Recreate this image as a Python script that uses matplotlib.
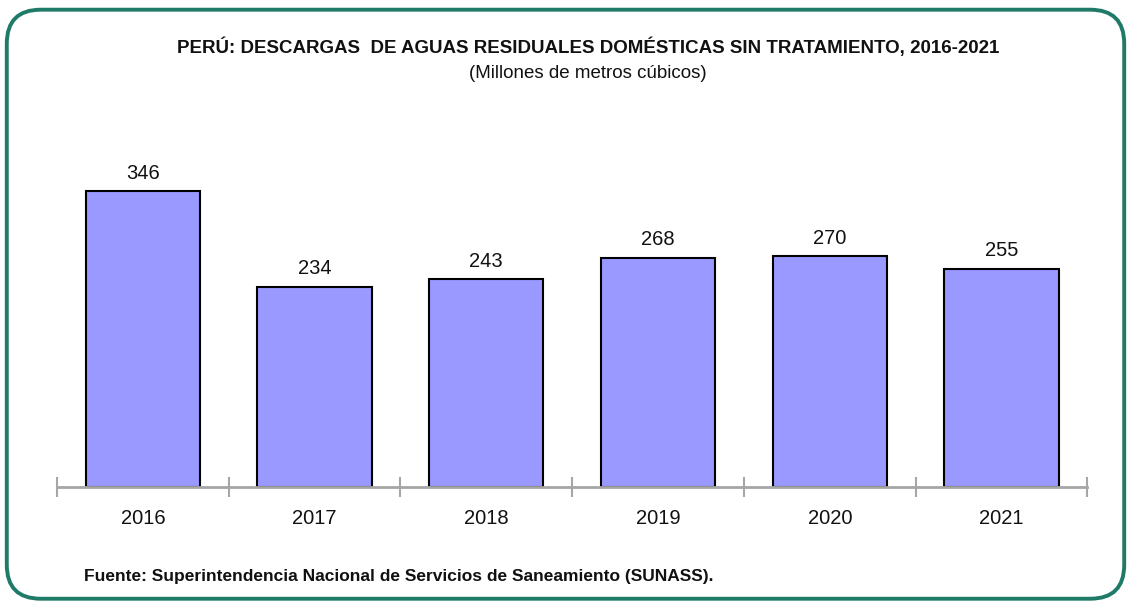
import numpy as np
import matplotlib
matplotlib.use("Agg")
import matplotlib.pyplot as plt
from matplotlib.patches import FancyBboxPatch

years = ["2016", "2017", "2018", "2019", "2020", "2021"]
descargas = [346, 234, 243, 268, 270, 255]

TITLE = "PERÚ: DESCARGAS  DE AGUAS RESIDUALES DOMÉSTICAS SIN TRATAMIENTO, 2016-2021"
SUBTITLE = "(Millones de metros cúbicos)"
SOURCE = "Fuente: Superintendencia Nacional de Servicios de Saneamiento (SUNASS)."

narrow = ["Liberation Sans Narrow", "Liberation Sans", "DejaVu Sans"]
plt.rcParams["font.family"] = ["Liberation Sans", "DejaVu Sans"]

fig = plt.figure(figsize=(11.31, 6.06), dpi=100)

# rounded green frame, kept behind the axes
frame = FancyBboxPatch((0.006, 0.012), 0.988, 0.972,
                       boxstyle="round,pad=0,rounding_size=0.03",
                       transform=fig.transFigure, facecolor="white",
                       edgecolor="#1f7a68", linewidth=2.8,
                       mutation_aspect=1131 / 606, zorder=-5)
fig.patches.append(frame)

ax = fig.add_axes([0.0504, 0.1964, 0.911, 0.5644])
x = np.arange(len(years))
ax.bar(x, descargas, width=0.665, color="#9999ff", edgecolor="black", linewidth=1.5, zorder=2)
for xi, v in zip(x, descargas):
    ax.text(xi, v + 10, str(v), ha="center", va="bottom", fontsize=14.5, color="#111111")

ax.set_xlim(-0.5, len(years) - 0.5)
ax.set_ylim(0, 400)
ax.set_yticks([])
for s in ("top", "right", "left"):
    ax.spines[s].set_visible(False)
ax.spines["bottom"].set_color("#a6a6a6")
ax.spines["bottom"].set_linewidth(2)
ax.spines["bottom"].set_zorder(3)

ax.set_xticks(np.arange(-0.5, len(years), 1.0))
ax.set_xticklabels([])
ax.tick_params(axis="x", which="major", direction="inout", length=14, width=1.5, color="#a6a6a6")
ax.set_xticks(x, minor=True)
ax.set_xticklabels(years, minor=True, fontsize=14.5, color="#111111")
ax.tick_params(axis="x", which="minor", length=0, pad=16)
ax.patch.set_alpha(0)

fig.text(0.52, 0.922, TITLE, ha="center", va="center", fontsize=13.5,
         fontweight="bold", family=narrow, color="#111111")
fig.text(0.52, 0.879, SUBTITLE, ha="center", va="center", fontsize=13.5,
         family=narrow, color="#111111")
fig.text(0.074, 0.048, SOURCE, ha="left", va="center", fontsize=12.5,
         fontweight="bold", family=narrow, color="#111111")

fig.savefig("out.png", dpi=100)
